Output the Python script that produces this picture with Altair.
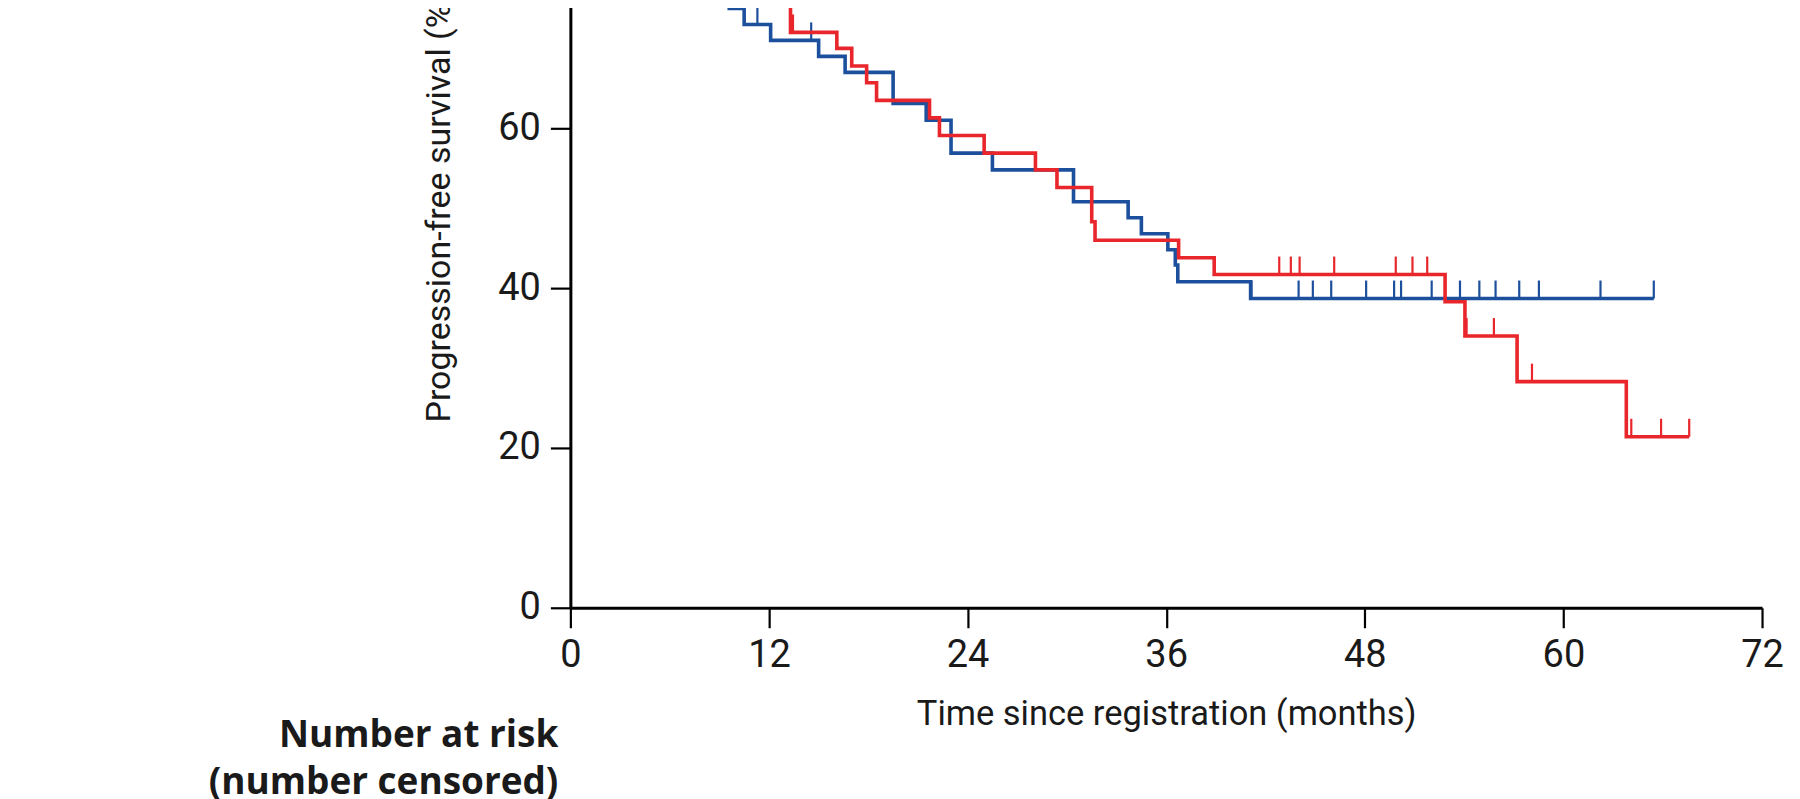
import altair as alt
import pandas as pd

# ---- data (months, % progression-free) ----
# (the top of the figure is cropped; curves enter the visible area from above)
blue_times = [0, 9.6, 10.5, 12.1, 15.0, 16.6, 19.5, 21.5, 23.0, 25.5, 30.4, 33.7,
              34.5, 36.1, 36.55, 36.7, 41.1]
blue_surv = [100, 75.0, 73.0, 71.0, 69.0, 67.0, 63.1, 61.0, 56.9, 54.8, 50.8, 48.8,
             46.8, 44.8, 42.9, 40.8, 38.7]
blue_end = 65.46
blue_censor = [11.3, 14.55, 41.15, 44.0, 44.86, 45.97, 48.08, 49.77, 50.19, 52.04,
               53.75, 54.92, 55.9, 57.33, 58.52, 62.24, 65.46]

red_times = [0, 13.3, 16.1, 17.0, 17.9, 18.5, 21.7, 22.3, 25.0, 28.1, 29.4, 31.5,
             31.7, 36.75, 38.9, 52.85, 54.05, 57.2, 63.8]
red_surv = [100, 72.0, 70.0, 67.8, 65.7, 63.5, 61.3, 59.1, 56.9, 54.8, 52.6, 48.3,
            46.0, 43.8, 41.7, 38.3, 34.0, 28.3, 21.4]
red_end = 67.6
red_censor = [13.45, 42.83, 43.53, 44.06, 46.15, 49.87, 50.88, 51.77, 54.15, 55.8,
              58.1, 64.1, 65.9, 67.6]

x_ticks = [0, 12, 24, 36, 48, 60, 72]
y_ticks = [0, 20, 40, 60, 80, 100]

BLUE = "#1c4f9c"
RED = "#e8262b"
TICK_LEN = 2.25  # censor mark length in % units


def level_at(times, surv, t):
    lvl = surv[0]
    for tt, ss in zip(times, surv):
        if tt <= t:
            lvl = ss
    return lvl


rows = []
for arm, ts, ss, end in [("blue", blue_times, blue_surv, blue_end),
                         ("red", red_times, red_surv, red_end)]:
    for i, (t, s) in enumerate(zip(ts, ss)):
        rows.append({"arm": arm, "time": t, "surv": s, "order": i})
    rows.append({"arm": arm, "time": end, "surv": ss[-1], "order": len(ts)})
steps = pd.DataFrame(rows)

crows = []
for arm, ts, ss, cens in [("blue", blue_times, blue_surv, blue_censor),
                          ("red", red_times, red_surv, red_censor)]:
    for c in cens:
        lv = level_at(ts, ss, c)
        crows.append({"arm": arm, "time": c, "y": lv, "y2": lv + TICK_LEN})
cens_df = pd.DataFrame(crows)

color = alt.Color("arm:N", scale=alt.Scale(domain=["blue", "red"], range=[BLUE, RED]),
                  legend=None)

xenc = alt.X("time:Q",
             scale=alt.Scale(domain=[0, 72], nice=False, zero=False),
             axis=alt.Axis(values=x_ticks, title="Time since registration (months)",
                           grid=False, tickSize=20, tickWidth=2.2, domainWidth=3,
                           domainColor="black", tickColor="black", labelFlush=False,
                           labelFont="Roboto", labelFontSize=38, labelColor="#1a1a1a",
                           labelPadding=9, titleFont="Roboto", titleFontSize=34.5,
                           titleFontWeight="normal", titleColor="#1a1a1a",
                           titleY=117, titleBaseline="alphabetic"))
yenc = alt.Y("surv:Q",
             scale=alt.Scale(domain=[0, 100], nice=False),
             axis=alt.Axis(values=y_ticks, title="Progression-free survival (%)",
                           grid=False, tickSize=20, tickWidth=2.2, domainWidth=3,
                           domainColor="black", tickColor="black", labelFlush=False,
                           labelFont="Roboto", labelFontSize=38, labelColor="#1a1a1a",
                           labelPadding=10, titleFont="Roboto", titleFontSize=34,
                           titleFontWeight="normal", titleColor="#1a1a1a",
                           titleAngle=270, titleAlign="left", titleBaseline="alphabetic",
                           titleX=-121, titleY=614, titleLimit=2000))

blue_line = alt.Chart(steps[steps.arm == "blue"]).mark_line(
    interpolate="step-after", strokeWidth=3.6, strokeCap="butt"
).encode(x=xenc, y=yenc, color=color, order="order:Q")

red_line = alt.Chart(steps[steps.arm == "red"]).mark_line(
    interpolate="step-after", strokeWidth=3.6, strokeCap="butt"
).encode(x="time:Q", y="surv:Q", color=color, order="order:Q")

cens = alt.Chart(cens_df).mark_rule(strokeWidth=2.2).encode(
    x="time:Q", y="y:Q", y2="y2:Q", color=color
)

lbl1 = alt.Chart(pd.DataFrame({"t": ["Number at risk"]})).mark_text(
    font="Open Sans", fontWeight="bold", fontSize=37, align="right",
    baseline="alphabetic", color="#1a1a1a"
).encode(text="t:N", x=alt.value(-12), y=alt.value(939))

lbl2 = alt.Chart(pd.DataFrame({"t": ["(number censored)"]})).mark_text(
    font="Open Sans", fontWeight="bold", fontSize=37, align="right",
    baseline="alphabetic", color="#1a1a1a"
).encode(text="t:N", x=alt.value(-12), y=alt.value(986))

chart = alt.layer(blue_line, cens, red_line, lbl1, lbl2).properties(
    width=1193, height=800,
    autosize=alt.AutoSizeParams(type="none"),
    padding={"left": 563, "top": -200, "right": 30, "bottom": 191},
    background="white",
).configure_view(stroke=None)

chart.save("out.html", embed_options={"renderer": "svg", "actions": False})
